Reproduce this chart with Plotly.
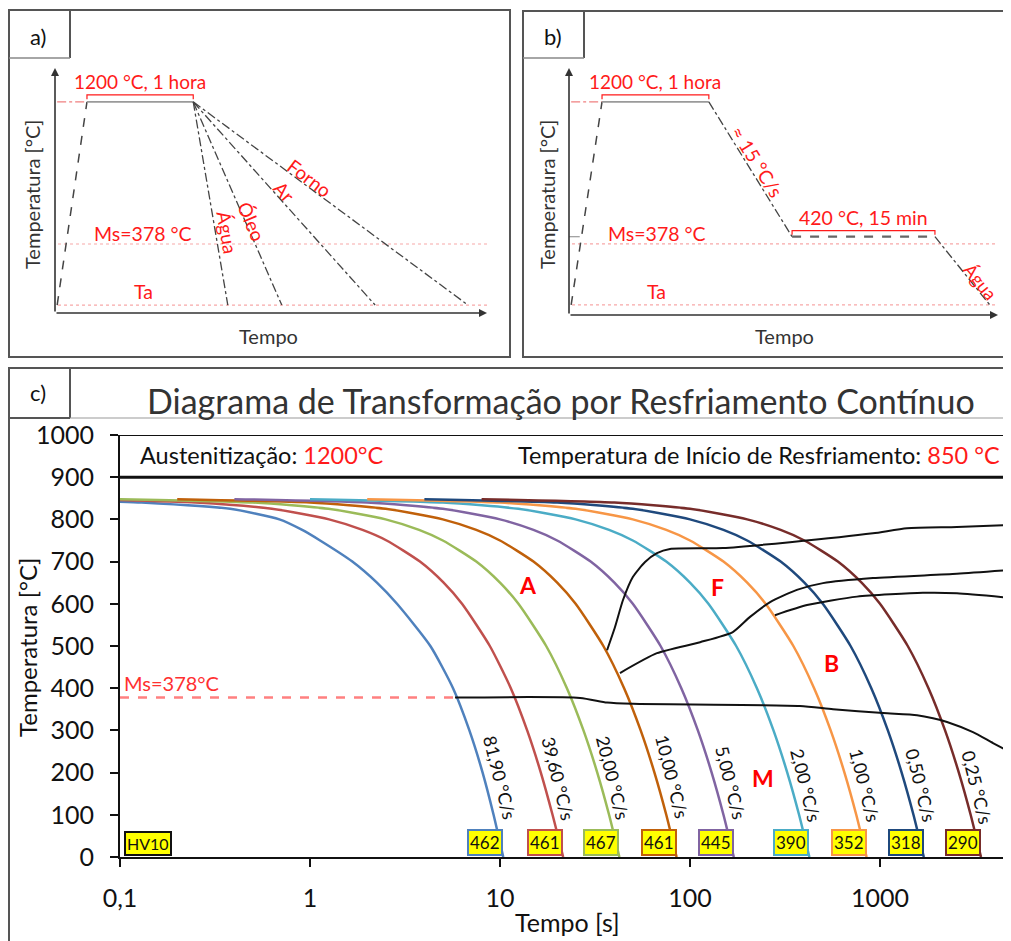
import math
import plotly.graph_objects as go

W, H = 1011, 941
OFF = 8  # page margin of the html body
FONT = "Lato"
RED = "#ff1a1a"
SOFT_RED = "#f7a8a8"
DARK = "#444444"


def px(x):
    return (x - OFF) / W


def py(y):
    return 1 - (y - OFF) / H


def lg(v):
    return math.log10(v)


# ---------------- Panel c : CCT diagram data ----------------
RATE_LABELS = ["81,90 °C/s", "39,60 °C/s", "20,00 °C/s", "10,00 °C/s", "5,00 °C/s",
               "2,00 °C/s", "1,00 °C/s", "0,50 °C/s", "0,25 °C/s"]
CURVE_COLORS = ["#4F81BD", "#C0504D", "#9BBB59", "#C0600A", "#8064A2",
                "#4BACC6", "#F79646", "#1F497D", "#772C2A"]
HV_VALUES = ["462", "461", "467", "461", "445", "390", "352", "318", "290"]
START_TIME = [0.1, 0.1, 0.1, 0.2, 0.4, 1, 2, 4, 8]
START_TEMP = [842, 846, 848, 848, 848, 848, 848, 848, 848]
CURVE_TEMPS = [840, 825, 800, 775, 750, 700, 650, 600, 500, 400, 300, 200, 100, 0]
CURVE_TIMES = [
    [0.13, 0.38, 0.69, 0.91, 1.13, 1.67, 2.25, 2.87, 4.3, 5.66, 6.9, 8.1, 9.25, 10.4],
    [0.25, 0.63, 1.26, 1.89, 2.53, 3.79, 5.05, 6.31, 8.84, 11.4, 13.9, 16.4, 18.9, 21.5],
    [0.5, 1.25, 2.5, 3.75, 5, 7.5, 10, 12.5, 17.5, 22.5, 27.5, 32.5, 37.5, 42.5],
    [1, 2.5, 5, 7.5, 10, 15, 20, 25, 35, 45, 55, 65, 75, 85],
    [2, 5, 10, 15, 20, 30, 40, 50, 70, 90, 110, 130, 150, 170],
    [5, 12.5, 25, 37.5, 50, 75, 100, 125, 175, 225, 275, 325, 375, 425],
    [10, 25, 50, 75, 100, 150, 200, 250, 350, 450, 550, 650, 750, 850],
    [20, 50, 100, 150, 200, 300, 400, 500, 700, 900, 1100, 1300, 1500, 1700],
    [40, 100, 200, 300, 400, 600, 800, 1000, 1400, 1800, 2200, 2600, 3000, 3400],
]
LABEL_TIME = [10, 20.2, 39.3, 80.4, 164, 408, 834, 1644, 3243]
LABEL_TEMP = [190, 187, 187, 192, 175, 171, 171, 171, 166]

FERRITE_TIME = [36.6, 40.3, 44.4, 50.1, 58, 67, 78.5, 149, 336, 918, 1387, 2540, 4890]
FERRITE_TEMP = [490, 545, 609, 664, 699, 720, 730, 732, 746, 767, 779, 782, 787]
PEARLITE_TIME = [42.8, 67, 113, 168, 207, 264, 365, 501, 918, 2540, 4890]
PEARLITE_TEMP = [436, 483, 509, 533, 569, 604, 633, 649, 661, 671, 680]
BAINITE_TIME = [280, 413, 757, 1683, 2540, 4890]
BAINITE_TEMP = [573, 597, 617, 626, 625, 614]
MS_TIME = [5.8, 26.4, 36.6, 50.1, 379, 566, 1038, 1567, 1901, 2253, 3085, 3933, 4830]
MS_TEMP = [378, 377, 366, 363, 358, 350, 341, 336, 329, 320, 296, 270, 249]
MS_VALUE = 378
MS_DASH_TIME = [0.1, 5.8]

PHASES = ["A", "F", "B", "M"]
PHASE_TIME = [14.0, 140, 558, 242]
PHASE_TEMP = [645, 640, 459, 187]

X_TICKS = [0.1, 1, 10, 100, 1000]
X_TICKTEXT = ["0,1", "1", "10", "100", "1000"]
Y_TICKS = [0, 100, 200, 300, 400, 500, 600, 700, 800, 900, 1000]

# ---------------- Panel a / b : schematic data ----------------
T_AUST, T_ISO, T_MS, T_AMB = 1200, 420, 378, 25
A_HEAT_T = [0.5, 7.4]
A_HOLD_T = [7.4, 32]
A_COOL_NAMES = ["Água", "Óleo", "Ar", "Forno"]
A_COOL_END_T = [40.0, 52.5, 74.1, 95.6]
A_COOL_LABEL_T = [39.8, 45.6, 53.0, 58.8]
A_COOL_LABEL_Y = [442, 511, 679, 760]
A_COOL_LABEL_ANGLE = [80, 67, 48, 37]

B_HEAT_T = [0.5, 7.7]
B_HOLD_T = [7.7, 32.6]
B_COOL1_T = [32.6, 52]
B_ISO_T = [52, 85.3]
B_COOL2_T = [85.3, 98.1]

fig = go.Figure()

# ---- panel c traces ----
for i in range(len(RATE_LABELS)):
    xs = [START_TIME[i]] + CURVE_TIMES[i]
    ys = [START_TEMP[i]] + CURVE_TEMPS
    fig.add_trace(go.Scatter(x=xs, y=ys, mode="lines",
                             line=dict(color=CURVE_COLORS[i], width=2.5, shape="spline", smoothing=0.6),
                             xaxis="x", yaxis="y", hoverinfo="skip"))

for tx, ty in [(FERRITE_TIME, FERRITE_TEMP), (PEARLITE_TIME, PEARLITE_TEMP),
               (BAINITE_TIME, BAINITE_TEMP), (MS_TIME, MS_TEMP)]:
    fig.add_trace(go.Scatter(x=tx, y=ty, mode="lines",
                             line=dict(color="#111111", width=2, shape="spline", smoothing=0.6),
                             xaxis="x", yaxis="y", hoverinfo="skip"))

fig.add_trace(go.Scatter(x=MS_DASH_TIME, y=[MS_VALUE, MS_VALUE], mode="lines",
                         line=dict(color="#ff8080", width=2.5, dash="dash"),
                         xaxis="x", yaxis="y", hoverinfo="skip"))


# ---- panel a / b traces ----
def sch(fig, x, y, ax, ay, color, width, dash):
    fig.add_trace(go.Scatter(x=x, y=y, mode="lines", line=dict(color=color, width=width, dash=dash),
                             xaxis=ax, yaxis=ay, hoverinfo="skip"))


for ax, ay, hold, heat in [("x2", "y2", A_HOLD_T, A_HEAT_T), ("x3", "y3", B_HOLD_T, B_HEAT_T)]:
    sch(fig, [0.7, 100], [T_MS, T_MS], ax, ay, SOFT_RED, 1.2, "dot")
    sch(fig, [0.7, 100], [T_AMB, T_AMB], ax, ay, SOFT_RED, 1.2, "dot")
    sch(fig, [0.5, heat[1]], [T_AUST, T_AUST], ax, ay, "#f08080", 1.2, "dashdot")
    sch(fig, heat, [T_AMB, T_AUST], ax, ay, DARK, 1.5, "dash")
    sch(fig, hold, [T_AUST, T_AUST], ax, ay, "#9a9a9a", 1.8, "solid")
    sch(fig, [hold[0], hold[0], hold[1], hold[1]], [T_AUST + 15, T_AUST + 40, T_AUST + 40, T_AUST + 15],
        ax, ay, RED, 1.2, "solid")

for end in A_COOL_END_T:
    sch(fig, [A_HOLD_T[1], end], [T_AUST, T_AMB], "x2", "y2", DARK, 1.3, "dashdot")

sch(fig, B_COOL1_T, [T_AUST, T_ISO], "x3", "y3", DARK, 1.3, "dashdot")
sch(fig, B_ISO_T, [T_ISO, T_ISO], "x3", "y3", "#666666", 2.2, "dash")
sch(fig, [B_ISO_T[0], B_ISO_T[0], B_ISO_T[1], B_ISO_T[1]], [T_ISO + 12, T_ISO + 35, T_ISO + 35, T_ISO + 12],
    "x3", "y3", RED, 1.2, "solid")
sch(fig, B_COOL2_T, [T_ISO, T_AMB], "x3", "y3", DARK, 1.3, "dashdot")
sch(fig, [0, 2.5], [T_ISO, T_ISO], "x3", "y3", "#999999", 1.2, "solid")

ann = []


def ptext(x, y, text, size, color="#111", angle=0, xanchor="center"):
    ann.append(dict(x=px(x), y=py(y), xref="paper", yref="paper", text=text, textangle=angle,
                    xanchor=xanchor, yanchor="middle", showarrow=False,
                    font=dict(family=FONT, size=size, color=color)))


# ---- panel c annotations (log axis -> x given as log10) ----
for i in range(len(RATE_LABELS)):
    ann.append(dict(x=lg(LABEL_TIME[i]), y=LABEL_TEMP[i], xref="x", yref="y", text=RATE_LABELS[i],
                    textangle=76, showarrow=False, font=dict(family=FONT, size=18, color="#111")))
    ann.append(dict(x=lg(CURVE_TIMES[i][-1]), y=0, xref="x", yref="y", text=HV_VALUES[i],
                    xanchor="right", yanchor="bottom", yshift=1, showarrow=False,
                    bgcolor="#ffff00", bordercolor=CURVE_COLORS[i], borderwidth=2, borderpad=1,
                    font=dict(family=FONT, size=17, color="#111")))
ann.append(dict(x=lg(0.1), y=0, xref="x", yref="y", text="HV10", xanchor="left", yanchor="bottom",
                xshift=4, yshift=1, showarrow=False, bgcolor="#ffff00", bordercolor="#111",
                borderwidth=2, borderpad=1, font=dict(family=FONT, size=16, color="#111")))
for p, t, v in zip(PHASES, PHASE_TIME, PHASE_TEMP):
    ann.append(dict(x=lg(t), y=v, xref="x", yref="y", text=f"<b>{p}</b>", showarrow=False,
                    font=dict(family=FONT, size=23, color="#ff0000")))
ann.append(dict(x=lg(0.1), y=MS_VALUE, xref="x", yref="y", text="Ms=378°C", xanchor="left",
                yanchor="bottom", xshift=2, showarrow=False,
                font=dict(family=FONT, size=20, color="#ff3030")))
ann.append(dict(x=px(138), y=952, xref="paper", yref="y", xanchor="left", yanchor="middle",
                text="Austenitização: <span style='color:#ff1a1a'>1200°C</span>", showarrow=False,
                font=dict(family=FONT, size=23.5, color="#111")))
ann.append(dict(x=px(1002), y=952, xref="paper", yref="y", xanchor="right", yanchor="middle",
                text="Temperatura de Início de Resfriamento: <span style='color:#ff1a1a'>850 °C</span>",
                showarrow=False, font=dict(family=FONT, size=23.5, color="#111")))
ptext(561, 400, "Diagrama de Transformação por Resfriamento Contínuo", 34, "#333")
ptext(27, 648, "Temperatura [°C]", 24, angle=-90)
ptext(567, 922, "Tempo [s]", 25)
ptext(38, 392, "c)", 22)

# ---- panel a/b annotations ----
for ax, ay, y0, lab, lx, hold, tx, tt in [
        ("x2", "y2", -21, "a)", 38, A_HOLD_T, 32, 268),
        ("x3", "y3", -33, "b)", 553, B_HOLD_T, 547, 784)]:
    ann.append(dict(x=100, y=y0, ax=0, ay=y0, xref=ax, yref=ay, axref=ax, ayref=ay, text="",
                    showarrow=True, arrowhead=2, arrowsize=1, arrowwidth=1.6, arrowcolor="#333"))
    ann.append(dict(x=0, y=1396, ax=0, ay=y0, xref=ax, yref=ay, axref=ax, ayref=ay, text="",
                    showarrow=True, arrowhead=2, arrowsize=1, arrowwidth=1.6, arrowcolor="#333"))
    ann.append(dict(x=(hold[0] + hold[1]) / 2, y=T_AUST + 40, xref=ax, yref=ay, yanchor="bottom",
                    text="1200 °C, 1 hora", showarrow=False, font=dict(family=FONT, size=19, color=RED)))
    ann.append(dict(x=20.4, y=T_MS, xref=ax, yref=ay, yanchor="bottom", text="Ms=378 °C", yshift=-3,
                    showarrow=False, font=dict(family=FONT, size=19.5, color=RED)))
    ann.append(dict(x=20.4, y=T_AMB, xref=ax, yref=ay, yanchor="bottom", text="Ta",
                    showarrow=False, font=dict(family=FONT, size=19.5, color=RED)))
    ptext(lx, 36, lab, 22)
    ptext(tx, 195, "Temperatura [°C]", 20, "#333", angle=-90)
    ptext(tt, 336, "Tempo", 20, "#333")

for name, t, v, ang in zip(A_COOL_NAMES, A_COOL_LABEL_T, A_COOL_LABEL_Y, A_COOL_LABEL_ANGLE):
    ann.append(dict(x=t, y=v, xref="x2", yref="y2", text=name, textangle=ang, showarrow=False,
                    font=dict(family=FONT, size=19, color=RED)))
ann.append(dict(x=43.8, y=853, xref="x3", yref="y3", text="≈ 15 °C/s", textangle=58, showarrow=False,
                font=dict(family=FONT, size=19, color=RED)))
ann.append(dict(x=(B_ISO_T[0] + B_ISO_T[1]) / 2, y=T_ISO + 35, xref="x3", yref="y3", yanchor="bottom",
                text="420 °C, 15 min", showarrow=False, font=dict(family=FONT, size=19.5, color=RED)))
ann.append(dict(x=96.0, y=158, xref="x3", yref="y3", text="Água", textangle=51, showarrow=False,
                font=dict(family=FONT, size=18, color=RED)))

# ---- frames ----
shapes = []
FR = dict(color="#555555", width=2)


def rect(x0, y0, x1, y1):
    shapes.append(dict(type="rect", xref="paper", yref="paper", x0=px(x0), x1=px(x1), y0=py(y1), y1=py(y0),
                       line=FR))


def hline(x0, x1, y, color="#555555", width=2):
    shapes.append(dict(type="line", xref="paper", yref="paper", x0=px(x0), x1=px(x1), y0=py(y), y1=py(y),
                       line=dict(color=color, width=width)))


def vline(x, y0, y1, color="#555555", width=2):
    shapes.append(dict(type="line", xref="paper", yref="paper", x0=px(x), x1=px(x), y0=py(y0), y1=py(y1),
                       line=dict(color=color, width=width)))


rect(9, 10, 510, 357)
vline(70, 10, 58)
hline(9, 70, 58, "#888888", 1.5)
rect(523, 11, 1030, 357)
vline(584, 11, 58)
hline(523, 584, 58, "#888888", 1.5)
rect(9, 368, 1030, 960)
vline(70, 368, 418)
hline(9, 70, 418)
hline(70, 1030, 418, "#999999", 1.2)
shapes.append(dict(type="line", xref="x domain", yref="y", x0=0, x1=1, y0=1000, y1=1000,
                   line=dict(color="#111", width=2)))
shapes.append(dict(type="line", xref="x domain", yref="y", x0=0, x1=1, y0=900, y1=900,
                   line=dict(color="#111", width=3)))

X_RIGHT = -1 + (W + OFF - 120) / 190.0
hidden = dict(visible=False, showgrid=False, zeroline=False, automargin=False)
fig.update_layout(
    width=W, height=H, autosize=False,
    margin=dict(l=0, r=0, t=0, b=0, pad=0, autoexpand=False),
    paper_bgcolor="white", plot_bgcolor="rgba(0,0,0,0)", showlegend=False,
    font=dict(family=FONT, color="#111"),
    xaxis=dict(type="log", range=[-1, X_RIGHT], domain=[px(120), 1.0], tickvals=X_TICKS, ticktext=X_TICKTEXT,
               showgrid=False, zeroline=False, showline=True, linecolor="#111", linewidth=2,
               ticks="outside", ticklen=8, tickwidth=2, tickcolor="#111", automargin=False,
               tickfont=dict(family=FONT, size=25, color="#111"), ticklabelstandoff=10, anchor="y"),
    yaxis=dict(range=[0, 1000], domain=[py(857), py(435)], tickvals=Y_TICKS,
               showgrid=False, zeroline=False, showline=True, linecolor="#111", linewidth=2,
               ticks="outside", ticklen=8, tickwidth=2, tickcolor="#111", automargin=False,
               tickfont=dict(family=FONT, size=25, color="#111"), ticklabelstandoff=11, anchor="x"),
    xaxis2=dict(range=[0, 100], domain=[px(55), px(487)], anchor="y2", **hidden),
    yaxis2=dict(range=[-21, 1396], domain=[py(313), py(68)], anchor="x2", **hidden),
    xaxis3=dict(range=[0, 100], domain=[px(569), px(998)], anchor="y3", **hidden),
    yaxis3=dict(range=[-33, 1396], domain=[py(315), py(68)], anchor="x3", **hidden),
    annotations=ann, shapes=shapes,
)

fig.write_html("out.html")
